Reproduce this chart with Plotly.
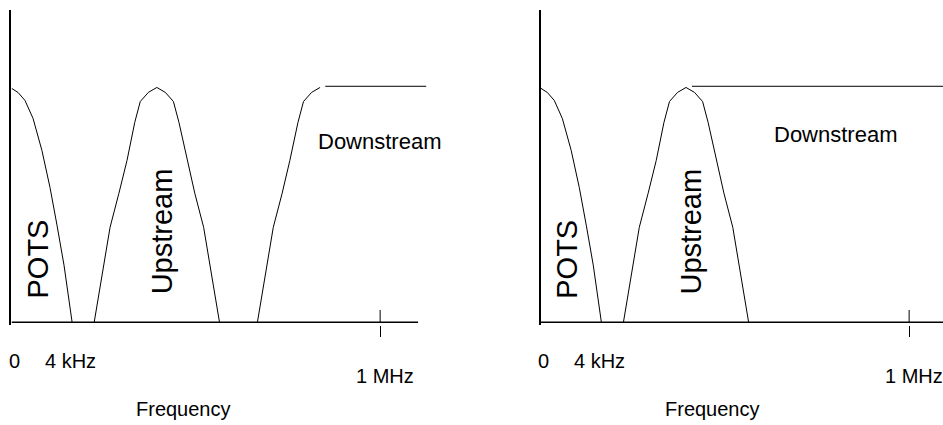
import plotly.graph_objects as go

# frequency in arbitrary units: 0 = DC, 100 = 1 MHz; level 1 = nominal band level
MHZ = 100

pots_x = [0, 1.7, 3.6, 5.8, 8.2, 10.4, 12.3, 14.2, 16.4]
pots_y = [0.996, 0.979, 0.945, 0.868, 0.732, 0.574, 0.413, 0.243, 0]

up_x = [22.4, 24.7, 26.7, 29.1, 31.3, 33.4, 34.9, 37.1, 39.4,
        41.7, 43.9, 45.4, 47.6, 49.7, 52.1, 54.1, 56.4]
up_y = [0, 0.221, 0.404, 0.549, 0.689, 0.851, 0.94, 0.979, 1.0,
        0.979, 0.94, 0.851, 0.689, 0.549, 0.404, 0.221, 0]

# left: downstream band sits above the upstream band (FDM)
down_fdm_x = [66.7, 69.0, 71.0, 73.4, 75.5, 77.7, 79.2, 81.4, 83.7, None, 85.1, 112.5]
down_fdm_y = [0, 0.221, 0.404, 0.549, 0.689, 0.851, 0.94, 0.979, 1.0, None, 1.005, 1.005]

# right: downstream overlaps the upstream band (echo cancellation)
down_ec_x = [41.0, 109.2]
down_ec_y = [1.005, 1.005]

panels = [
    dict(ax="", domain=[0.012, 0.4539], xmax=113, axis_end=110.3,
         dx=down_fdm_x, dy=down_fdm_y, label=(99.7, 0.77)),
    dict(ax="2", domain=[0.5733, 1.0], xmax=109.2, axis_end=109.2,
         dx=down_ec_x, dy=down_ec_y, label=(80.1, 0.80)),
]

FONT = "Liberation Sans, Arial, sans-serif"

fig = go.Figure()
line = dict(color="black", width=1)
annotations = []

for p in panels:
    xa, ya = "x" + p["ax"], "y" + p["ax"]
    curves = [
        (pots_x, pots_y),
        (up_x, up_y),
        (p["dx"], p["dy"]),
        ([0, p["axis_end"]], [0, 0]),
        ([MHZ, MHZ], [0, 0.052]),
    ]
    for cx, cy in curves:
        fig.add_trace(go.Scatter(x=cx, y=cy, mode="lines", line=line,
                                 xaxis=xa, yaxis=ya, hoverinfo="skip"))
    # the baseline a bit thicker
    fig.data[-2].line.width = 1.5

    # labels inside the plot (data coords)
    inside = [
        ("Downstream", p["label"][0], p["label"][1], 0, 22),
        ("POTS", 7.2, 0.268, -90, 29),
        ("Upstream", 40.8, 0.387, -90, 29),
    ]
    for t, x, y, ang, size in inside:
        annotations.append(dict(text=t, x=x, y=y, xref=xa, yref=ya, showarrow=False,
                                xanchor="center", yanchor="middle", textangle=ang,
                                font=dict(size=size, family=FONT, color="black")))
    # labels below the axis (y in paper coords)
    below = [
        ("0", 0.8, -0.114),
        ("4 kHz", 15.9, -0.114),
        ("1 MHz", 101.4, -0.162),
        ("Frequency", 46.7, -0.267),
    ]
    for t, x, y in below:
        annotations.append(dict(text=t, x=x, y=y, xref=xa, yref="paper", showarrow=False,
                                xanchor="center", yanchor="middle",
                                font=dict(size=20, family=FONT, color="black")))

    fig.layout["xaxis" + p["ax"]] = dict(
        domain=p["domain"], range=[-0.1, p["xmax"]], anchor=ya,
        showgrid=False, zeroline=False, showline=False,
        ticks="outside", tickvals=[MHZ], ticklen=11, tickwidth=1, tickcolor="black",
        showticklabels=False,
    )
    fig.layout["yaxis" + p["ax"]] = dict(
        domain=[0, 1], range=[-0.012, 1.33], anchor=xa,
        showgrid=False, zeroline=False, showline=True, linecolor="black", linewidth=1.5,
        ticks="", showticklabels=False,
    )

fig.update_layout(
    width=943, height=425,
    margin=dict(l=0, r=0, t=10, b=100),
    showlegend=False,
    paper_bgcolor="white", plot_bgcolor="white",
    annotations=annotations,
)

# drop the default body margin so the figure fills the window exactly
fig.write_html(
    "out.html",
    config={"displayModeBar": False},
    post_script="document.body.style.margin='0';document.body.style.overflow='hidden';",
)
